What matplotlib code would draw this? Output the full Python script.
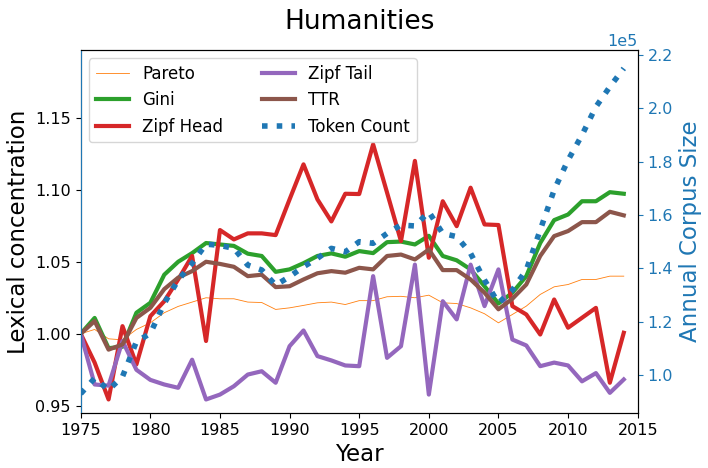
import matplotlib
matplotlib.use("Agg")
import matplotlib.pyplot as plt

years = list(range(1975, 2015))

pareto = [1.000, 1.003, 0.9965, 0.9958, 1.003, 1.0076, 1.0146, 1.019, 1.022, 1.025,
          1.0243, 1.0243, 1.022, 1.0217, 1.0169, 1.018, 1.0197, 1.0215, 1.022, 1.0203,
          1.023, 1.023, 1.0257, 1.026, 1.025, 1.0268, 1.0215, 1.021, 1.018, 1.0139,
          1.0076, 1.0134, 1.0192, 1.0273, 1.0326, 1.0342, 1.0377, 1.0377, 1.040, 1.040]

gini = [1.000, 1.011, 0.990, 0.991, 1.0146, 1.0215, 1.041, 1.050, 1.056, 1.063,
        1.062, 1.061, 1.0556, 1.054, 1.043, 1.0447, 1.049, 1.054, 1.0558, 1.0535,
        1.0574, 1.056, 1.0636, 1.064, 1.062, 1.068, 1.054, 1.051, 1.0447, 1.033,
        1.021, 1.0285, 1.040, 1.063, 1.0789, 1.0828, 1.092, 1.092, 1.0983, 1.0972]

zipf_head = [1.000, 0.980, 0.9544, 1.0053, 0.9787, 1.0122, 1.0226, 1.0377, 1.054, 0.995,
             1.072, 1.0655, 1.0697, 1.0697, 1.0685, 1.0933, 1.1176, 1.0933, 1.078, 1.0972,
             1.0970, 1.1315, 1.098, 1.0643, 1.120, 1.0528, 1.092, 1.0747, 1.1014, 1.0759,
             1.0755, 1.0192, 1.0134, 0.9995, 1.0238, 1.0042, 1.0111, 1.018, 0.966, 1.0007]

zipf_tail = [1.000, 0.9648, 0.964, 0.995, 0.975, 0.968, 0.9648, 0.9625, 0.982, 0.9544,
             0.9578, 0.9636, 0.9717, 0.974, 0.966, 0.9914, 1.0023, 0.9845, 0.9815, 0.978,
             0.9775, 1.040, 0.9833, 0.9914, 1.048, 0.9578, 1.0226, 1.010, 1.048, 1.0192,
             1.0447, 0.996, 0.9919, 0.9775, 0.980, 0.978, 0.967, 0.9727, 0.959, 0.9683]

ttr = [1.000, 1.0088, 0.989, 0.9926, 1.011, 1.018, 1.031, 1.039, 1.0435, 1.050,
       1.0485, 1.0465, 1.040, 1.041, 1.0324, 1.033, 1.0377, 1.042, 1.0435, 1.0424,
       1.0458, 1.0447, 1.054, 1.055, 1.0516, 1.0585, 1.0442, 1.0442, 1.0377, 1.0285,
       1.017, 1.0243, 1.0342, 1.054, 1.0678, 1.0713, 1.0775, 1.0775, 1.0847, 1.0822]

# token counts in units of 1e5
token_count = [0.93, 0.988, 0.944, 0.994, 1.125, 1.156, 1.269, 1.356, 1.419, 1.491,
               1.486, 1.475, 1.412, 1.394, 1.337, 1.369, 1.406, 1.4375, 1.475, 1.462,
               1.50, 1.494, 1.531, 1.5625, 1.559, 1.612, 1.531, 1.519, 1.456, 1.356,
               1.27, 1.319, 1.394, 1.544, 1.694, 1.806, 1.90, 2.006, 2.081, 2.15]
token_count = [v * 1e5 for v in token_count]

fig = plt.figure(figsize=(7.08, 4.68), dpi=100)
ax = fig.add_axes([0.114, 0.1175, 0.7867, 0.7757])

l1, = ax.plot(years, pareto, color="tab:orange", lw=0.6, label="Pareto")
l2, = ax.plot(years, gini, color="tab:green", lw=3, label="Gini")
l3, = ax.plot(years, zipf_head, color="tab:red", lw=3, label="Zipf Head")
l4, = ax.plot(years, zipf_tail, color="tab:purple", lw=3, label="Zipf Tail")
l5, = ax.plot(years, ttr, color="tab:brown", lw=3, label="TTR")
ax.set_xlim(1975, 2015)
ax.set_ylim(0.945, 1.197)
ax.set_xlabel("Year", fontsize=16.5)
ax.set_ylabel("Lexical concentration", fontsize=16.5)
ax.tick_params(labelsize=11.5)
ax.set_title("Humanities", fontsize=19, pad=15)

ax2 = ax.twinx()
l6, = ax2.plot(years, token_count, color="tab:blue", lw=4, ls=":", label="Token Count")
ax2.set_ylim(0.8575e5, 2.219e5)
ax2.ticklabel_format(axis="y", style="sci", scilimits=(0, 0))
ax2.set_ylabel("Annual Corpus Size", fontsize=16.5, color="tab:blue")
ax2.tick_params(axis="y", colors="tab:blue", labelsize=11.5)
ax2.yaxis.get_offset_text().set_fontsize(11.5)
ax2.yaxis.get_offset_text().set_color("tab:blue")
ax2.spines["left"].set_color("tab:blue")

lines = [l1, l2, l3, l4, l5, l6]
ax.legend(lines, [l.get_label() for l in lines], ncol=2, loc="upper left",
          fontsize=12, columnspacing=2.3)

plt.savefig("out.png")
